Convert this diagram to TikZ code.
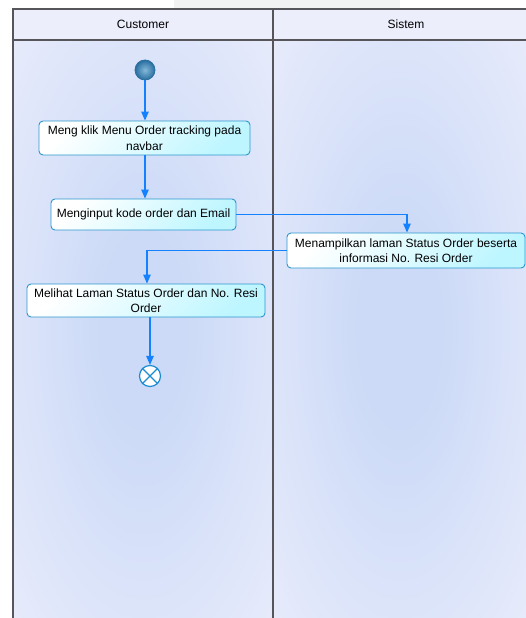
\documentclass[tikz,border=0pt]{standalone}
\usepackage{fontspec}
\setmainfont{Liberation Sans}
\usetikzlibrary{arrows.meta,calc}

\definecolor{lanebg}{RGB}{237,239,252}
\definecolor{laneglow}{RGB}{204,218,247}
\definecolor{headbg}{RGB}{236,238,252}
\definecolor{laneline}{RGB}{85,85,90}
\definecolor{flowblue}{RGB}{20,130,255}
\definecolor{actborder}{RGB}{45,150,205}
\definecolor{actfill}{RGB}{190,246,255}
\definecolor{startfill}{RGB}{80,155,200}
\definecolor{startdark}{RGB}{40,110,160}
\definecolor{endline}{RGB}{30,140,210}
\definecolor{topband}{RGB}{242,242,242}

% soft elliptical glow filling each swimlane
\pgfdeclareradialshading{laneshade}{\pgfpoint{0bp}{0bp}}{%
  color(0bp)=(laneglow); color(8bp)=(laneglow); color(42bp)=(lanebg); color(72bp)=(lanebg)}

\tikzset{
  lanearea/.style={shading=laneshade},
  laneedge/.style={draw=laneline, line width=1.3pt},
  activity/.style={draw=actborder, line width=0.9pt, rounded corners=4pt,
    shading=axis, top color=white, bottom color=actfill, shading angle=45,
    align=center, inner sep=2pt, font=\fontsize{12}{15.5}\selectfont},
  flow/.style={draw=flowblue, line width=1.3pt,
    -{Triangle[length=9pt,width=7.5pt]}},
  startnode/.style={circle, draw=startdark, line width=0.8pt, minimum size=20pt,
    inner sep=0pt, inner color=startfill!70!white, outer color=startdark},
  endnode/.style={circle, draw=endline, line width=1.2pt, fill=white,
    minimum size=21pt, inner sep=0pt},
}

\begin{document}
\begin{tikzpicture}[x=1pt,y=-1pt]
  \useasboundingbox (0,0) rectangle (526,618);
  \fill[white] (0,0) rectangle (526,618);
  \fill[topband] (174,0) rectangle (400,9);

  % swimlane bodies
  \path[lanearea] (13,40) rectangle (273,618);
  \path[lanearea] (273,40) rectangle (526,618);

  % header row
  \fill[headbg] (13,9) rectangle (526,40);
  \node[font=\fontsize{12}{14}\selectfont] (hcust) at (143,24.5) {Customer};
  \node[font=\fontsize{12}{14}\selectfont] (hsys) at (406,24.5) {Sistem};

  % lane borders
  \draw[laneedge] (13,618) -- (13,9) -- (526,9);
  \draw[laneedge] (13,40) -- (526,40);
  \draw[laneedge] (273,9) -- (273,618);

  % initial and final nodes
  \node[startnode] (start) at (145,70) {};
  \node[endnode] (finish) at (150,376) {};
  \draw[endline, line width=1.2pt] (finish.north west) -- (finish.south east)
    (finish.north east) -- (finish.south west);

  % activities
  \node[activity, minimum width=211pt, minimum height=34pt] (a1) at (144.5,138)
    {Meng klik Menu Order tracking pada\\navbar};
  \node[activity, minimum width=185pt, minimum height=31pt] (a2) at (143.5,214.5)
    {Menginput kode order dan Email};
  \node[activity, minimum width=238pt, minimum height=35pt] (a3) at (406,250.5)
    {Menampilkan laman Status Order beserta\\informasi No. Resi Order};
  \node[activity, minimum width=238pt, minimum height=33pt] (a4) at (146,300.5)
    {Melihat Laman Status Order dan No. Resi\\Order};

  % control flow
  \draw[flow] (start) -- (start |- a1.north);
  \draw[flow] (start |- a1.south) -- (start |- a2.north);
  \draw[flow] (a2.east) -| ($(a3.north)+(1,0)$);
  \draw[flow] (a3.west) -| ($(a4.north)+(1,0)$);
  \draw[flow] (finish |- a4.south) -- (finish.north);
\end{tikzpicture}
\end{document}
